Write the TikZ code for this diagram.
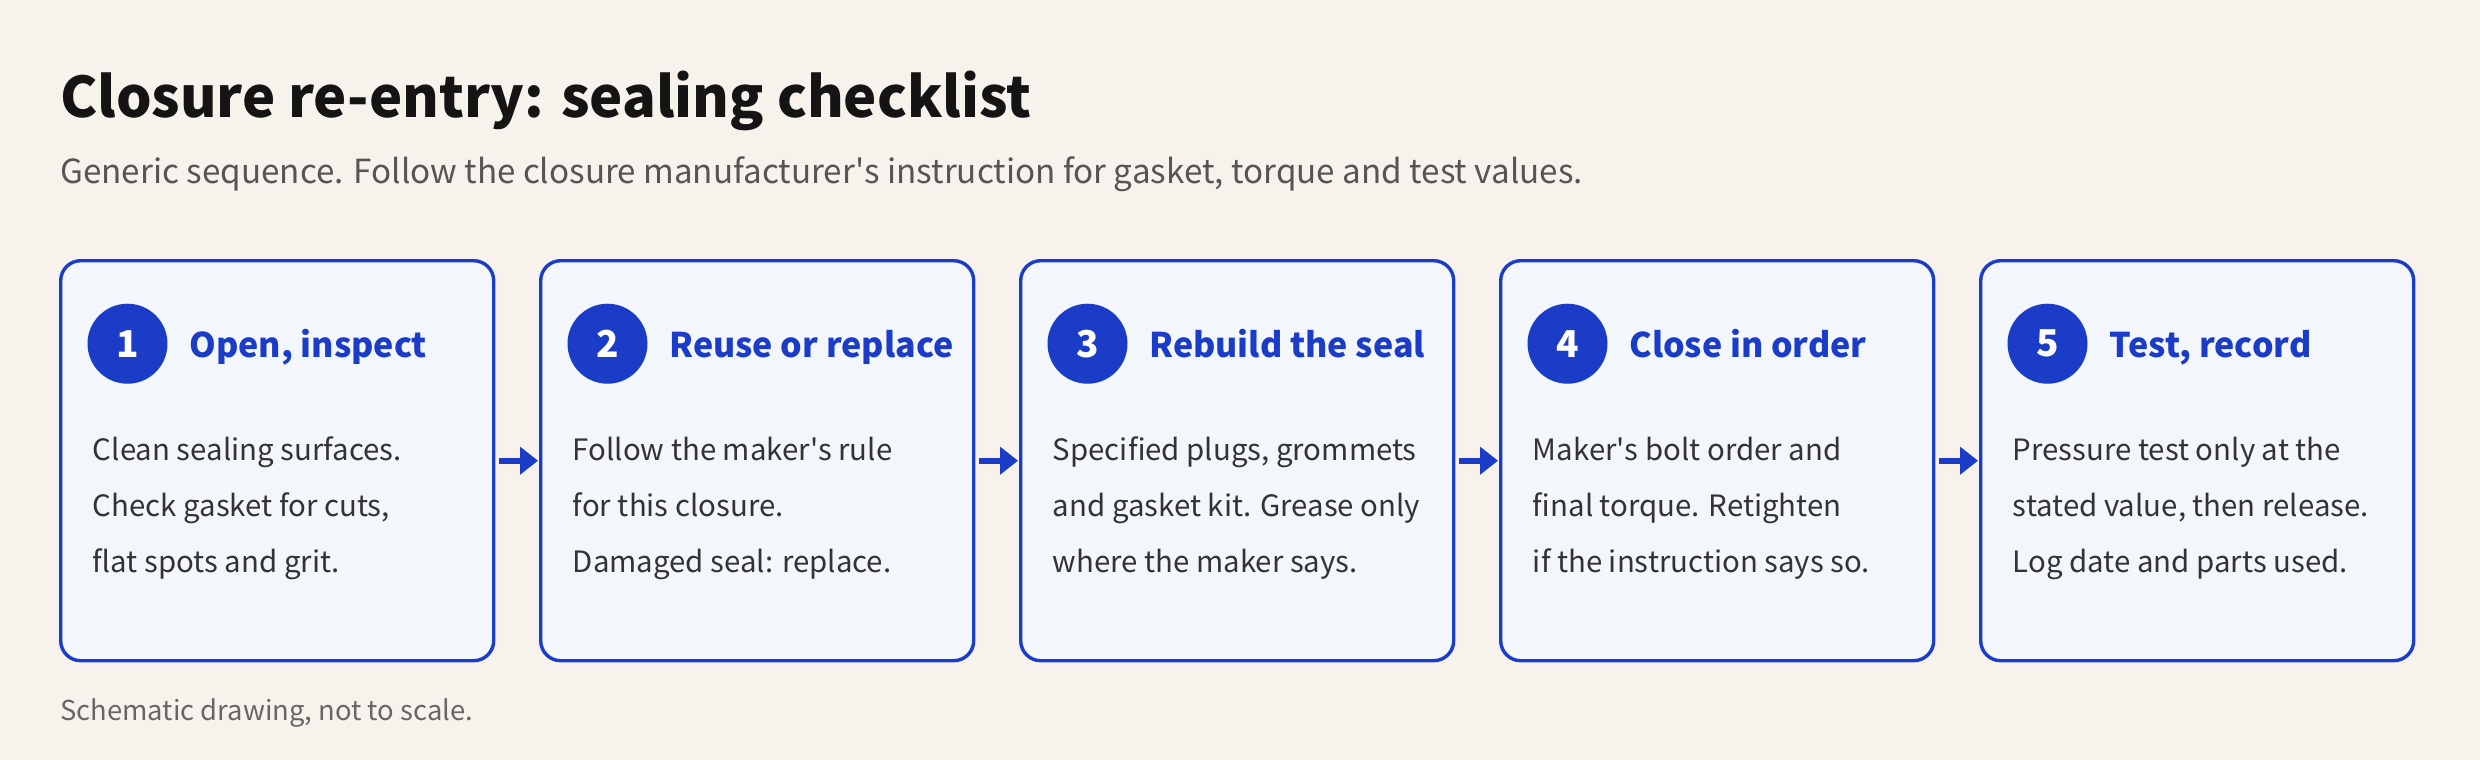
\documentclass[tikz,border=0pt]{standalone}
\usepackage{fontspec}
\setmainfont{Noto Sans CJK KR}
\usetikzlibrary{arrows.meta,positioning}
\definecolor{paper}{HTML}{F7F3EC}
\definecolor{cardfill}{HTML}{F3F6FA}
\definecolor{stepblue}{HTML}{1B3CC6}
\definecolor{inkgray}{HTML}{333333}
\definecolor{subgray}{HTML}{555555}
\definecolor{notegray}{HTML}{666666}

\begin{document}
\begin{tikzpicture}[x=0.5pt, y=-0.5pt,
    card/.style={draw=stepblue, fill=cardfill, line width=1.7pt, rounded corners=10pt,
      minimum width=216.5pt, minimum height=200pt, inner sep=0pt, anchor=north west},
    badge/.style={circle, fill=stepblue, minimum size=40pt, inner sep=0pt, text=white,
      font=\fontsize{18.5}{20}\selectfont\bfseries},
    heading/.style={anchor=base west, inner sep=0pt, text=stepblue,
      font=\fontsize{17}{20}\selectfont\bfseries},
    bodyline/.style={anchor=base west, inner sep=0pt, text=inkgray,
      font=\fontsize{14.7}{18}\selectfont},
    flow/.style={-{Triangle[length=9pt, width=13.5pt]}, line width=3pt, draw=stepblue,
      shorten >=0.5pt}]

    % paper
    \fill[paper] (0,0) rectangle (2480,760);

    % title and subtitle
    \node[anchor=base west, inner sep=0pt, text=black!92,
      font=\fontsize{28}{32}\selectfont\bfseries] (title) at (60,117)
      {Closure re-entry: sealing checklist};
    \node[anchor=base west, inner sep=0pt, text=subgray,
      font=\fontsize{16.6}{18}\selectfont] (subtitle) at (60,183)
      {Generic sequence. Follow the closure manufacturer\textquotesingle s instruction for gasket, torque and test values.};

    % step cards
    \foreach \i/\head/\la/\lb/\lc in {
        1/{Open, inspect}/{Clean sealing surfaces.}/{Check gasket for cuts,}/{flat spots and grit.},
        2/{Reuse or replace}/{Follow the maker\textquotesingle s rule}/{for this closure.}/{Damaged seal: replace.},
        3/{Rebuild the seal}/{Specified plugs, grommets}/{and gasket kit. Grease only}/{where the maker says.},
        4/{Close in order}/{Maker\textquotesingle s bolt order and}/{final torque. Retighten}/{if the instruction says so.},
        5/{Test, record}/{Pressure test only at the}/{stated value, then release.}/{Log date and parts used.}} {
      \pgfmathsetmacro\bx{59+480*(\i-1)}
      \node[card] (box\i) at (\bx,259) {};
      \node[badge] (num\i) at (\bx+68.5,343.7) {\i};
      \node[heading] (head\i) at (\bx+130,357) {\head};
      \node[bodyline] (txt\i a) at (\bx+33.5,460) {\la};
      \node[bodyline] (txt\i b) at (\bx+33.5,516) {\lb};
      \node[bodyline] (txt\i c) at (\bx+33.5,572) {\lc};
    }

    % arrows between cards
    \foreach \i [evaluate=\i as \j using int(\i+1)] in {1,...,4}
      \draw[flow] ([xshift=2pt]box\i.east) -- (box\j.west);

    % footnote
    \node[anchor=base west, inner sep=0pt, text=notegray,
      font=\fontsize{13.7}{16}\selectfont] (note) at (60,720) {Schematic drawing, not to scale.};
\end{tikzpicture}
\end{document}
